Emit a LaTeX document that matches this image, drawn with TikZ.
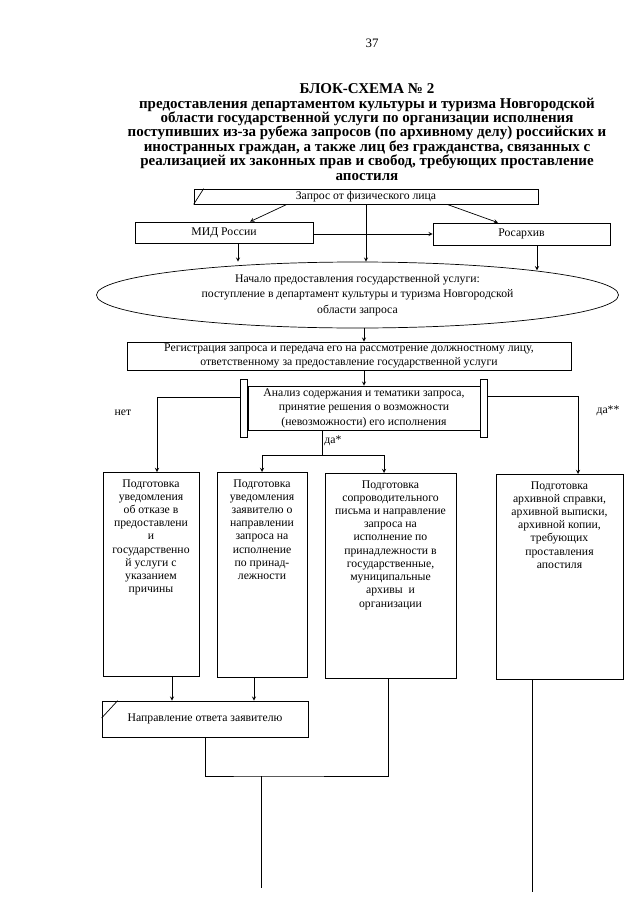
\documentclass[tikz,border=0pt]{standalone}
\usepackage{fontspec}
\setmainfont{Liberation Serif}
\usepackage{tikz}
\usetikzlibrary{arrows,shapes,positioning,calc}
\tikzstyle{arrow} = [->,>=stealth]
\tikzstyle{flowbox} = [rectangle, draw, inner sep=0pt, align=center, font=\fontsize{10}{11.6}\selectfont]
\tikzstyle{tallbox} = [rectangle, draw, inner sep=0pt, anchor=north, font=\fontsize{10}{11.3}\selectfont]
\tikzstyle{barbox} = [rectangle, draw, inner sep=0pt, minimum width=2.1mm, minimum height=17.4mm]
\tikzstyle{branchlabel} = [font=\fontsize{10}{12}\selectfont]

\begin{document}
\begin{tikzpicture}[x=0.3mm, y=-0.3mm, node distance=0pt, line width=0.6pt]
\useasboundingbox (0,0) rectangle (640,905);

% header
\node[font=\fontsize{11}{13}\selectfont] (pagenum) at (372,43) {37};
\node[align=center, font=\bfseries\fontsize{12.8}{12.3}\selectfont] (title) at (367,132) {БЛОК-СХЕМА № 2\\
предоставления департаментом культуры и туризма Новгородской\\
области государственной услуги по организации исполнения\\
поступивших из-за рубежа запросов (по архивному делу) российских и\\
иностранных граждан, а также лиц без гражданства, связанных с\\
реализацией их законных прав и свобод, требующих проставление\\
апостиля};

% incoming request
\node[flowbox, minimum width=103.2mm, minimum height=4.5mm] (zap) at (366,196.5) {Запрос от физического лица};
\draw (zap.south west) -- ([xshift=3mm]zap.north west);
\node[flowbox, minimum width=53.4mm, minimum height=6.3mm] (mid) at (224,232.5) {МИД России};
\node[flowbox, minimum width=53.1mm, minimum height=6.6mm] (ros) at (521.5,234) {Росархив};
\draw[arrow] ([xshift=-23.7mm]zap.south) -- ([xshift=7.8mm]mid.north);
\draw[arrow] ([xshift=24.3mm]zap.south) -- ([xshift=-7.05mm]ros.north);
\draw[arrow] (ros.west -| mid.east) -- (ros.west);

% start of the service
\node[ellipse, draw, inner sep=0pt, minimum width=156.6mm, minimum height=19.8mm, align=center, font=\fontsize{10}{13.2}\selectfont] (start) at (357.5,295) {Начало предоставления государственной услуги:\\
поступление в департамент культуры и туризма Новгородской\\
области запроса};
\coordinate (xmid) at (238,0);
\coordinate (xros) at (537,0);
\draw[arrow] (zap.south) -- (zap.south |- start.north);
\draw[arrow] (mid.south -| xmid) -- (xmid |- start.north);
\draw[arrow] (ros.south -| xros) -- (xros |- start.8);

% registration and analysis
\node[flowbox, minimum width=133.2mm, minimum height=8.4mm] (reg) at (349,356) {Регистрация запроса и передача его на рассмотрение должностному лицу,\\
ответственному за предоставление государственной услуги};
\node[flowbox, minimum width=69.6mm, minimum height=13.2mm, font=\fontsize{10}{12.4}\selectfont] (an) at (364,408) {Анализ содержания и тематики запроса,\\
принятие решения о возможности\\
(невозможности) его исполнения};
\node[barbox, left=of an] (barL) {};
\node[barbox, right=of an] (barR) {};
\draw[arrow] (start.south -| an.north) -- (reg.north -| an.north);
\draw[arrow] (reg.south -| an.north) -- (an.north);

% outcome boxes
\node[tallbox] (b1) at (151,472) {\parbox[c][61.2mm][t]{28.8mm}{\centering\rule{0pt}{4.4mm}Подготовка\\ уведомления\\ об отказе в\\ предоставлени\\ и\\ государственно\\ й услуги с\\ указанием\\ причины}};
\node[tallbox] (b2) at (262,472) {\parbox[c][61.5mm][t]{27mm}{\centering\rule{0pt}{4.4mm}Подготовка\\ уведомления\\ заявителю о\\ направлении\\ запроса на\\ исполнение\\ по принад-\\ лежности}};
\node[tallbox] (b3) at (390.5,473) {\parbox[c][61.5mm][t]{39.3mm}{\centering\rule{0pt}{4.4mm}Подготовка\\ сопроводительного\\ письма и направление\\ запроса на\\ исполнение по\\ принадлежности в\\ государственные,\\ муниципальные\\ архивы~ и\\ организации}};
\node[tallbox] (b4) at (559.5,474) {\parbox[c][61.5mm][t]{38.1mm}{\centering\rule{0pt}{4.4mm}Подготовка\\ архивной справки,\\ архивной выписки,\\ архивной копии,\\ требующих\\ проставления\\ апостиля}};

% branches
\node[branchlabel] (no) at (123,413) {нет};
\node[branchlabel] (yesA) at (333,441) {да*};
\node[branchlabel] (yesB) at (608,411) {да**};
\coordinate (fork) at (322,455);
\draw[arrow] ([yshift=3.3mm]barL.west) -| ([xshift=1.8mm]b1.north);
\draw[arrow] ([yshift=3.6mm]barR.east) -| ([xshift=5.55mm]b4.north);
\draw (an.south -| fork) -- (fork);
\draw[arrow] (fork) -| (b2.north);
\draw[arrow] (fork) -| ([xshift=-1.95mm]b3.north);

% reply to the applicant
\node[flowbox, minimum width=61.8mm, minimum height=10.8mm] (nap) at (205,719) {Направление ответа заявителю};
\draw ([yshift=0.3mm]nap.west) -- ([xshift=4.8mm]nap.north west);
\coordinate (xb1) at (172,0);
\coordinate (xb2) at (254,0);
\draw[arrow] (b1.south -| xb1) -- (xb1 |- nap.north);
\draw[arrow] (b2.south -| xb2) -- (xb2 |- nap.north);
\coordinate (merge) at (261,776);
\coordinate (outA) at (261,888);
\coordinate (outB) at (532,892);
\draw (nap.south) |- (merge) -| ([xshift=-0.75mm]b3.south);
\draw (merge) -- (outA);
\draw (b4.south -| outB) -- (outB);
\end{tikzpicture}
\end{document}
